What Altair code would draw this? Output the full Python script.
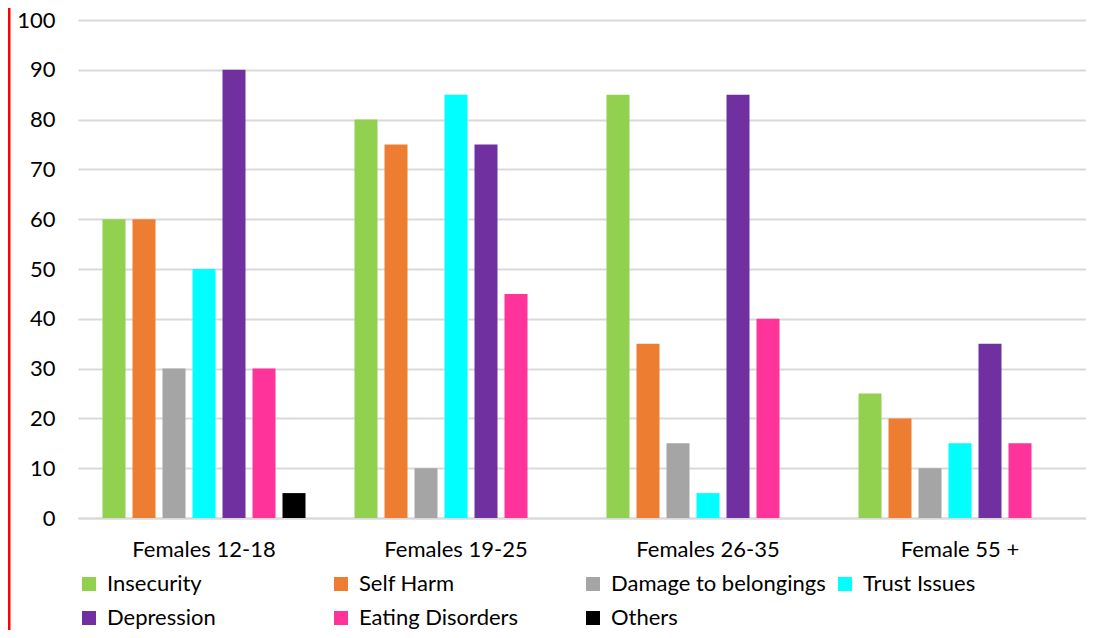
import altair as alt
import pandas as pd

groups = ["Females 12-18", "Females 19-25", "Females 26-35", "Female 55 +"]
series = ["Insecurity", "Self Harm", "Damage to belongings", "Trust Issues",
          "Depression", "Eating Disorders", "Others"]
colors = ["#92D050", "#ED7D31", "#A5A5A5", "#00FFFF", "#7030A0", "#FF3399", "#000000"]

insecurity = [60, 80, 85, 25]
self_harm = [60, 75, 35, 20]
damage = [30, 10, 15, 10]
trust = [50, 85, 5, 15]
depression = [90, 75, 85, 35]
eating = [30, 45, 40, 15]
others = [5, None, None, None]

values = [insecurity, self_harm, damage, trust, depression, eating, others]
rows = []
for s, vals in zip(series, values):
    for g, v in zip(groups, vals):
        if v is not None:
            rows.append({"group": g, "series": s, "value": v})
df = pd.DataFrame(rows)

FONT = "Lato"
FS = 22

bars = alt.Chart(df).mark_bar().encode(
    x=alt.X("group:N", sort=groups, title=None,
            scale=alt.Scale(paddingInner=0, paddingOuter=0),
            axis=alt.Axis(labelAngle=0, ticks=False, domainColor="#D9D9D9",
                          domainWidth=2, labelFontSize=FS, labelColor="#000000",
                          labelFont=FONT, labelPadding=21, grid=False)),
    xOffset=alt.XOffset("series:N", sort=series,
                        scale=alt.Scale(domain=series, paddingInner=0.2333, paddingOuter=0.8167)),
    y=alt.Y("value:Q", title=None,
            scale=alt.Scale(domain=[0, 100], nice=False),
            axis=alt.Axis(values=list(range(0, 101, 10)), ticks=False, domain=False,
                          gridColor="#D9D9D9", gridWidth=2, labelFontSize=FS,
                          labelColor="#000000", labelFont=FONT, labelPadding=23)),
    color=alt.Color("series:N", sort=series,
                    scale=alt.Scale(domain=series, range=colors),
                    legend=alt.Legend(title=None, orient="none", legendX=0, legendY=553,
                                      direction="horizontal",
                                      columns=4, gridAlign="all", columnPadding=8,
                                      rowPadding=12, symbolType="square", symbolSize=196,
                                      symbolStrokeWidth=0, labelFontSize=FS,
                                      labelFont=FONT, labelColor="#000000",
                                      labelLimit=400,
                                      labelOffset=7, padding=0)),
)

red = alt.Chart(pd.DataFrame({"v": [0]})).mark_rule(color="#FF0000", strokeWidth=3).encode(
    x=alt.value(-69), y=alt.value(-12), y2=alt.value(612)
)

chart = alt.layer(bars, red).properties(
    width=1008, height=498,
    padding={"left": 70, "top": 12, "right": 0, "bottom": 112},
    autosize=alt.AutoSizeParams(type="none"),
).configure_view(stroke=None)

chart.save("out.html", embed_options={"renderer": "svg", "actions": False})
